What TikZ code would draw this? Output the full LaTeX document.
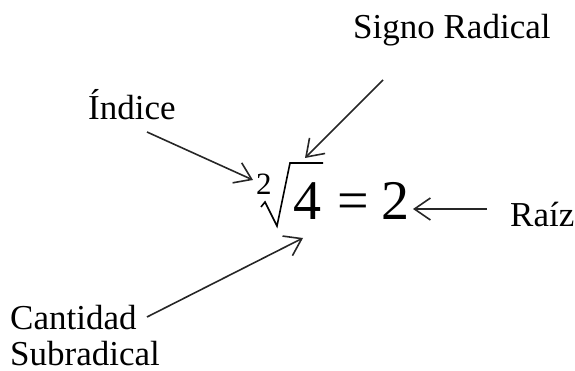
\documentclass[tikz,border=0pt]{standalone}
\usepackage{fontspec}
\setmainfont{Liberation Serif}
\usetikzlibrary{arrows.meta}
\begin{document}
\begin{tikzpicture}[x=1pt,y=-1pt,
  lbl/.style={anchor=base west,inner sep=0pt,font=\fontsize{35}{38}\selectfont},
  big/.style={anchor=base west,inner sep=0pt,font=\fontsize{56}{60}\selectfont},
  callout/.style={line width=1.6pt,draw=black!85,-{Straight Barb[length=16pt,width=22pt,line width=1.6pt]}}]
\useasboundingbox (0,0) rectangle (575,371);
% labels
\node[lbl] (signo) at (353,39) {Signo Radical};
\node[lbl] (indice) at (88,120) {Índice};
\node[lbl] (raiz) at (510,227) {Raíz};
\node[lbl] (cant) at (10,329) {Cantidad};
\node[lbl] (subr) at (10,365) {Subradical};
% formula
\node[anchor=base west,inner sep=0pt,font=\fontsize{31}{33}\selectfont] (idx) at (256,195) {2};
\draw[line width=1.6pt,line join=miter] (261,207) -- (265,202) -- (277,226) -- (290,163) -- (323,163);
\node[big] (four) at (293,220) {4};
\node[big] (eq) at (337,220) {=};
\node[big] (two) at (381,220) {2};
% connector ends
\coordinate (s0) at (383,80);  \coordinate (s1) at (305,158);
\coordinate (i0) at (147,132); \coordinate (i1) at (253,180);
\coordinate (r0) at (487,209); \coordinate (r1) at (413,209);
\coordinate (c0) at (147,317); \coordinate (c1) at (303,238);
\draw[callout] (s0) -- (s1);
\draw[callout] (i0) -- (i1);
\draw[callout] (r0) -- (r1);
\draw[callout] (c0) -- (c1);
\end{tikzpicture}
\end{document}
